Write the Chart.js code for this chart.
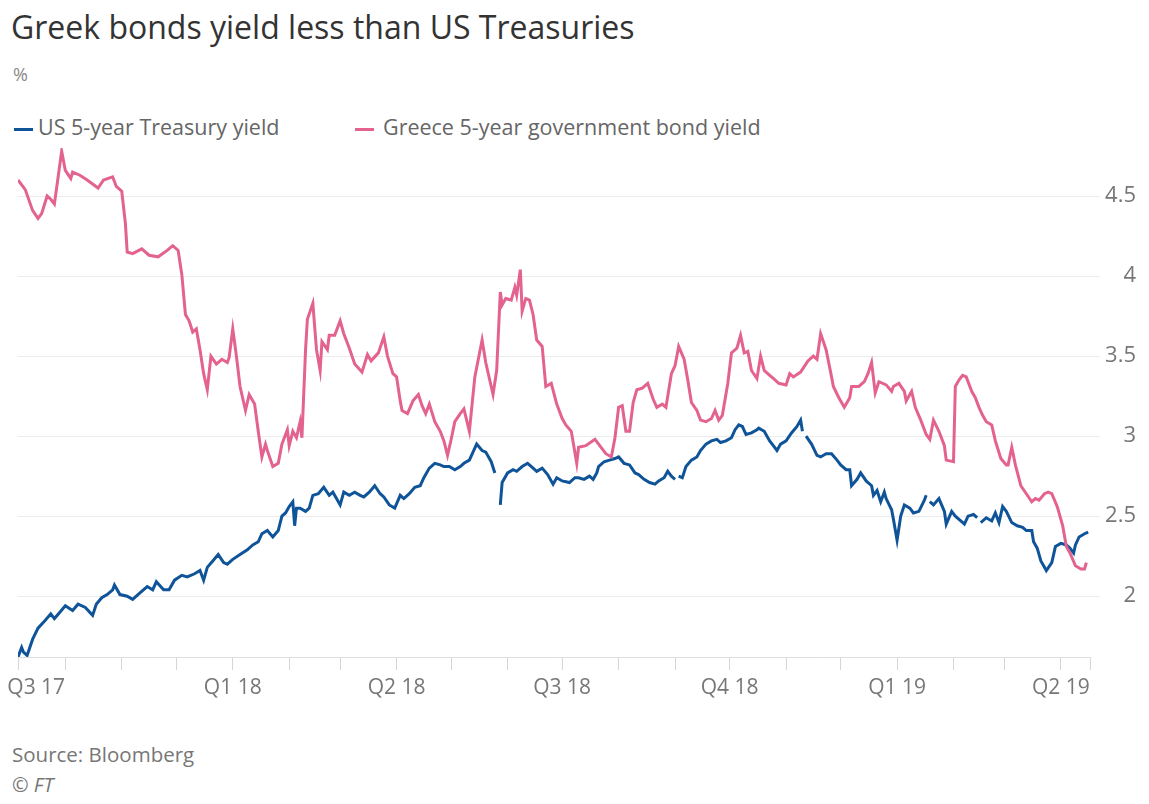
<!DOCTYPE html>
<html>
<head>
<meta charset="utf-8">
<title>Greek bonds yield less than US Treasuries</title>
<script src="https://cdn.jsdelivr.net/npm/chart.js@4.4.1/dist/chart.umd.min.js"></script>
<style>
  body { margin: 0; background: #fff; font-family: "Open Sans", sans-serif; }
  #page { position: relative; width: 1149px; height: 804px; overflow: hidden; }
  .title { position: absolute; left: 11px; top: 5px; font-size: 32px; color: #333; white-space: nowrap; }
  .unit { position: absolute; left: 13px; top: 62px; font-size: 18px; color: #888; }
  .legend { position: absolute; top: 112px; font-size: 21.5px; color: #666; white-space: nowrap; }
  .swatch { position: absolute; top: 16px; width: 19px; height: 3px; }
  #chartBox { position: absolute; left: 0; top: 140px; width: 1149px; height: 570px; }
  .source { position: absolute; left: 12px; top: 740px; font-size: 20.5px; color: #777; }
  .copy { position: absolute; left: 12px; top: 771px; font-size: 20px; color: #777; font-style: italic; }
</style>
</head>
<body>
<div id="page">
  <div class="title">Greek bonds yield less than US Treasuries</div>
  <div class="unit">%</div>
  <div class="legend" style="left:14px"><span class="swatch" style="left:0;background:#0f5499"></span><span style="margin-left:24px">US 5-year Treasury yield</span></div>
  <div class="legend" style="left:355px"><span class="swatch" style="left:0;background:#e3628f"></span><span style="margin-left:28px">Greece 5-year government bond yield</span></div>
  <div id="chartBox"><canvas id="yieldChart" width="1149" height="570"></canvas></div>
  <div class="source">Source: Bloomberg</div>
  <div class="copy">© FT</div>
</div>

<script>
// days counted from 1 Jan 2018
const usDays = [
    -118, -116, -115, -113, -110, -107, -103, -100, -98, -95,
    -92, -88, -85, -81, -77, -75, -72, -69, -66, -65,
    -62, -58, -55, -51, -47, -44, -42, -38, -35, -32,
    -28, -25, -21, -18, -16, -14, -11, -8, -5, -3,
    0, 4, 8, 11, 14, 16, 19, 22, 25, 27,
    29, 31, 33, 34, 35, 37, 40, 42, 44, 47,
    50, 53, 55, 57, 59, 61, 64, 67, 70, 72,
    75, 78, 81, 83, 86, 89, 92, 94, 97, 100,
    103, 105, 108, 111, 114, 116, 119, 122, 125, 127,
    130, 132, 134, 137, 139, 142, 144, 145, 147, 148,
    151, 154, 156, 159, 162, 165, 167, 170, 173, 176,
    178, 181, 185, 188, 190, 193, 196, 198, 200, 201,
    204, 207, 210, 212, 215, 218, 221, 223, 226, 229,
    232, 234, 237, 239, 241, 243, 244, 245, 247, 249,
    252, 255, 257, 260, 263, 266, 268, 271, 274, 276,
    278, 280, 282, 285, 288, 289, 292, 295, 297, 299,
    301, 304, 307, 310, 312, 313, 314, 315, 318, 321,
    323, 326, 329, 332, 334, 337, 339, 340, 343, 345,
    348, 351, 352, 354, 356, 358, 359, 362, 363, 365,
    367, 369, 372, 374, 377, 380, 381, 382, 383, 385,
    388, 391, 392, 395, 397, 400, 402, 404, 407, 409,
    410, 411, 414, 417, 419, 421, 423, 425, 428, 431,
    434, 436, 439, 440, 442, 444, 446, 447, 450, 452,
    455, 458, 460, 462, 463, 465, 468, 470
];
const usYield = [
    1.62, 1.68, 1.65, 1.63, 1.73, 1.80, 1.85, 1.89, 1.86, 1.90,
    1.94, 1.91, 1.95, 1.93, 1.88, 1.95, 1.99, 2.01, 2.04, 2.07,
    2.01, 2.00, 1.98, 2.02, 2.06, 2.04, 2.09, 2.04, 2.04, 2.10,
    2.13, 2.12, 2.14, 2.16, 2.10, 2.18, 2.22, 2.26, 2.21, 2.20,
    2.23, 2.26, 2.29, 2.32, 2.34, 2.39, 2.41, 2.37, 2.41, 2.50,
    2.52, 2.56, 2.59, 2.44, 2.55, 2.55, 2.53, 2.55, 2.63, 2.64,
    2.68, 2.63, 2.65, 2.61, 2.57, 2.65, 2.63, 2.65, 2.63, 2.62,
    2.65, 2.69, 2.64, 2.62, 2.57, 2.55, 2.63, 2.61, 2.64, 2.68,
    2.69, 2.74, 2.80, 2.83, 2.82, 2.81, 2.81, 2.79, 2.81, 2.83,
    2.85, 2.90, 2.95, 2.91, 2.90, 2.84, 2.77, null, 2.57, 2.71,
    2.77, 2.79, 2.78, 2.81, 2.83, 2.80, 2.78, 2.80, 2.76, 2.70,
    2.74, 2.72, 2.71, 2.74, 2.74, 2.73, 2.75, 2.73, 2.77, 2.81,
    2.84, 2.85, 2.86, 2.87, 2.83, 2.82, 2.77, 2.76, 2.73, 2.71,
    2.70, 2.72, 2.74, 2.78, 2.75, 2.73, null, 2.75, 2.74, 2.81,
    2.85, 2.87, 2.91, 2.95, 2.97, 2.98, 2.96, 2.97, 2.99, 3.04,
    3.07, 3.06, 3.01, 3.02, 3.04, 3.05, 3.03, 2.97, 2.94, 2.91,
    2.95, 2.97, 3.02, 3.06, 3.10, 3.03, null, 3.00, 2.95, 2.88,
    2.87, 2.89, 2.89, 2.85, 2.82, 2.79, 2.79, 2.69, 2.73, 2.77,
    2.72, 2.69, 2.63, 2.66, 2.59, 2.65, 2.61, 2.54, 2.48, 2.35,
    2.50, 2.57, 2.55, 2.52, 2.53, 2.60, 2.63, null, 2.59, 2.57,
    2.61, 2.53, 2.45, 2.53, 2.50, 2.47, 2.45, 2.50, 2.51, 2.49,
    null, 2.46, 2.49, 2.47, 2.52, 2.46, 2.56, 2.53, 2.46, 2.44,
    2.43, 2.41, 2.41, 2.34, 2.30, 2.22, 2.18, 2.16, 2.21, 2.31,
    2.33, 2.32, 2.30, 2.27, 2.32, 2.37, 2.39, 2.40
];

const greeceDays = [
    -118, -114, -110, -107, -105, -102, -100, -98, -94, -92,
    -89, -88, -84, -80, -74, -71, -66, -64, -61, -59,
    -58, -55, -50, -46, -41, -36, -33, -30, -28, -26,
    -24, -22, -20, -18, -16, -14, -12, -9, -6, -3,
    -2, 0, 2, 4, 7, 9, 12, 14, 16, 18,
    19, 22, 25, 27, 30, 31, 33, 35, 37, 38,
    40, 41, 44, 46, 48, 49, 52, 53, 56, 59,
    61, 64, 67, 71, 74, 76, 80, 83, 85, 88,
    90, 92, 93, 96, 99, 102, 104, 106, 108, 111,
    114, 116, 118, 120, 122, 125, 127, 130, 133, 137,
    139, 143, 145, 147, 148, 150, 153, 155, 156, 158,
    159, 161, 163, 165, 167, 170, 172, 175, 178, 181,
    183, 186, 189, 190, 194, 199, 201, 205, 208, 210,
    212, 214, 216, 218, 220, 222, 225, 228, 231, 233,
    236, 238, 241, 243, 245, 248, 250, 252, 255, 257,
    260, 263, 265, 267, 269, 272, 274, 277, 279, 281,
    283, 285, 288, 290, 292, 295, 297, 300, 304, 306,
    308, 312, 316, 319, 321, 323, 326, 329, 330, 333,
    336, 339, 340, 344, 347, 349, 351, 353, 355, 359,
    362, 363, 366, 369, 370, 373, 375, 378, 381, 383,
    385, 388, 391, 392, 396, 397, 399, 401, 403, 406,
    408, 410, 412, 414, 417, 419, 422, 425, 426, 428,
    430, 433, 436, 439, 441, 443, 446, 448, 450, 453,
    456, 458, 460, 463, 466, 468, 469
];
const greeceYield = [
    4.60, 4.54, 4.41, 4.36, 4.39, 4.50, 4.48, 4.45, 4.78, 4.66,
    4.61, 4.65, 4.63, 4.60, 4.55, 4.60, 4.62, 4.56, 4.53, 4.33,
    4.15, 4.14, 4.17, 4.13, 4.12, 4.16, 4.19, 4.16, 4.01, 3.76,
    3.72, 3.65, 3.67, 3.54, 3.39, 3.29, 3.50, 3.45, 3.48, 3.46,
    3.49, 3.67, 3.50, 3.31, 3.16, 3.26, 3.20, 3.03, 2.87, 2.95,
    2.91, 2.81, 2.83, 2.95, 3.04, 2.94, 3.03, 2.99, 3.09, 2.99,
    3.54, 3.73, 3.83, 3.54, 3.41, 3.59, 3.54, 3.63, 3.63, 3.72,
    3.64, 3.55, 3.45, 3.40, 3.51, 3.47, 3.52, 3.62, 3.50, 3.39,
    3.37, 3.22, 3.16, 3.14, 3.22, 3.26, 3.19, 3.14, 3.20, 3.09,
    3.03, 2.97, 2.88, 2.98, 3.09, 3.14, 3.17, 3.03, 3.37, 3.60,
    3.46, 3.26, 3.41, 3.90, 3.82, 3.86, 3.85, 3.93, 3.88, 4.04,
    3.78, 3.86, 3.85, 3.76, 3.60, 3.56, 3.31, 3.33, 3.20, 3.11,
    3.07, 3.03, 2.83, 2.93, 2.94, 2.98, 2.95, 2.89, 2.87, 2.99,
    3.18, 3.19, 3.03, 3.03, 3.21, 3.29, 3.30, 3.33, 3.23, 3.18,
    3.20, 3.18, 3.39, 3.44, 3.56, 3.48, 3.35, 3.21, 3.16, 3.10,
    3.09, 3.11, 3.16, 3.10, 3.13, 3.33, 3.52, 3.55, 3.63, 3.52,
    3.53, 3.41, 3.36, 3.50, 3.41, 3.38, 3.36, 3.33, 3.32, 3.39,
    3.37, 3.40, 3.47, 3.50, 3.48, 3.64, 3.54, 3.37, 3.31, 3.24,
    3.18, 3.24, 3.31, 3.31, 3.34, 3.39, 3.46, 3.27, 3.34, 3.32,
    3.28, 3.31, 3.33, 3.28, 3.22, 3.28, 3.18, 3.10, 3.01, 2.98,
    3.10, 3.03, 2.94, 2.85, 2.84, 3.31, 3.35, 3.38, 3.37, 3.28,
    3.24, 3.18, 3.13, 3.09, 3.07, 2.97, 2.86, 2.82, 2.82, 2.93,
    2.82, 2.69, 2.64, 2.59, 2.61, 2.60, 2.64, 2.65, 2.64, 2.56,
    2.44, 2.31, 2.27, 2.19, 2.17, 2.17, 2.21
];

// x axis: first/last day of the chart, month starts (tick marks) and quarter labels
const axisStart = -118;
const axisEnd = 471;
const monthDays = [-92, -61, -31, 0, 31, 59, 90, 120, 151, 181, 212, 243, 273, 304, 334, 365, 396, 424, 455];
const quarterDays = [-108, 0, 90, 181, 273, 365, 455];
const quarterLabels = ['Q3 17', 'Q1 18', 'Q2 18', 'Q3 18', 'Q4 18', 'Q1 19', 'Q2 19'];

const yTicks = [2, 2.5, 3, 3.5, 4, 4.5];

Chart.defaults.font.family = '"Open Sans", sans-serif';

function toPoints(days, values) {
    return days.map((d, i) => ({ x: d, y: values[i] }));
}

function createYieldChart() {
    const ctx = document.getElementById('yieldChart').getContext('2d');
    // the first label sits next to the axis start and has no tick mark of its own
    const labelOnly = [quarterDays[0]];
    const tickDays = [axisStart, ...monthDays, axisEnd, ...labelOnly].sort((a, b) => a - b);

    new Chart(ctx, {
        type: 'line',
        data: {
            datasets: [
                {
                    label: 'Greece 5-year government bond yield',
                    data: toPoints(greeceDays, greeceYield),
                    borderColor: '#e3628f',
                    borderWidth: 3,
                    pointRadius: 0,
                    tension: 0
                },
                {
                    label: 'US 5-year Treasury yield',
                    data: toPoints(usDays, usYield),
                    borderColor: '#0f5499',
                    borderWidth: 3,
                    pointRadius: 0,
                    tension: 0,
                    spanGaps: false
                }
            ]
        },
        options: {
            responsive: false,
            animation: false,
            layout: { padding: { left: 18, top: 8, right: 13, bottom: 0 } },
            plugins: {
                legend: { display: false },
                tooltip: { enabled: false }
            },
            scales: {
                x: {
                    type: 'linear',
                    min: axisStart,
                    max: axisEnd,
                    afterBuildTicks: scale => {
                        scale.ticks = tickDays.map(v => ({ value: v }));
                    },
                    afterFit: scale => {
                        scale.height = 53;
                        scale.paddingLeft = 0;
                        scale.paddingRight = 0;
                    },
                    ticks: {
                        autoSkip: false,
                        maxRotation: 0,
                        padding: 5,
                        color: '#777',
                        font: { size: 21 },
                        callback: value => {
                            const i = quarterDays.indexOf(value);
                            return i >= 0 ? quarterLabels[i] : '';
                        }
                    },
                    grid: {
                        drawOnChartArea: false,
                        tickLength: 13,
                        tickColor: c => (c.tick && labelOnly.includes(c.tick.value)) ? 'rgba(0,0,0,0)' : '#d6d6d6'
                    },
                    border: { color: '#dedede', width: 1 }
                },
                y: {
                    position: 'right',
                    min: 1.62,
                    max: 4.8,
                    afterBuildTicks: scale => {
                        scale.ticks = yTicks.map(v => ({ value: v }));
                    },
                    afterFit: scale => {
                        scale.width = 46;
                        scale.paddingTop = 0;
                        scale.paddingBottom = 0;
                    },
                    ticks: {
                        crossAlign: 'far',
                        padding: 0,
                        color: '#777',
                        font: { size: 22 },
                        callback: value => String(value)
                    },
                    grid: { color: '#ececec', tickLength: 10 },
                    border: { display: false }
                }
            }
        }
    });
}

document.addEventListener('DOMContentLoaded', createYieldChart);
</script>
</body>
</html>
